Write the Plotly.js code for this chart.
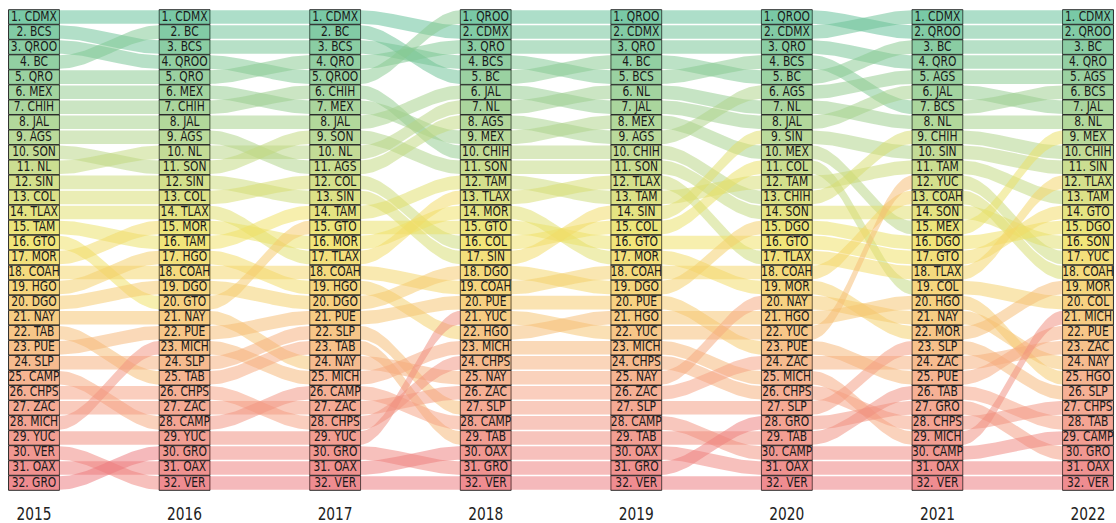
<!DOCTYPE html>
<html><head><meta charset="utf-8">
<script src="https://cdn.plot.ly/plotly-3.0.1.min.js"></script>
<style>html,body{margin:0;padding:0;background:#fff}#chart{width:1116px;height:523px}</style>
</head><body><div id="chart"></div>
<script>
const years = ['2015','2016','2017','2018','2019','2020','2021','2022'];
const r2015 = ['CDMX','BCS','QROO','BC','QRO','MEX','CHIH','JAL','AGS','SON','NL','SIN','COL','TLAX','TAM','GTO','MOR','COAH','HGO','DGO','NAY','TAB','PUE','SLP','CAMP','CHPS','ZAC','MICH','YUC','VER','OAX','GRO'];
const r2016 = ['CDMX','BC','BCS','QROO','QRO','MEX','CHIH','JAL','AGS','NL','SON','SIN','COL','TLAX','MOR','TAM','HGO','COAH','DGO','GTO','NAY','PUE','MICH','SLP','TAB','CHPS','ZAC','CAMP','YUC','GRO','OAX','VER'];
const r2017 = ['CDMX','BC','BCS','QRO','QROO','CHIH','MEX','JAL','SON','NL','AGS','COL','SIN','TAM','GTO','MOR','TLAX','COAH','HGO','DGO','PUE','SLP','TAB','NAY','MICH','CAMP','ZAC','CHPS','YUC','GRO','OAX','VER'];
const r2018 = ['QROO','CDMX','QRO','BCS','BC','JAL','NL','AGS','MEX','CHIH','SON','TAM','TLAX','MOR','GTO','COL','SIN','DGO','COAH','PUE','YUC','HGO','MICH','CHPS','NAY','ZAC','SLP','CAMP','TAB','OAX','GRO','VER'];
const r2019 = ['QROO','CDMX','QRO','BC','BCS','NL','JAL','MEX','AGS','CHIH','SON','TLAX','TAM','SIN','COL','GTO','MOR','COAH','DGO','PUE','HGO','YUC','MICH','CHPS','NAY','ZAC','SLP','CAMP','TAB','OAX','GRO','VER'];
const r2020 = ['QROO','CDMX','QRO','BCS','BC','AGS','NL','JAL','SIN','MEX','COL','TAM','CHIH','SON','DGO','GTO','TLAX','COAH','MOR','NAY','HGO','YUC','PUE','ZAC','MICH','CHPS','SLP','GRO','TAB','CAMP','OAX','VER'];
const r2021 = ['CDMX','QROO','BC','QRO','AGS','JAL','BCS','NL','CHIH','SIN','TAM','YUC','COAH','SON','MEX','DGO','GTO','TLAX','COL','HGO','NAY','MOR','SLP','ZAC','PUE','TAB','GRO','CHPS','MICH','CAMP','OAX','VER'];
const r2022 = ['CDMX','QROO','BC','QRO','AGS','BCS','JAL','NL','MEX','CHIH','SIN','TLAX','TAM','GTO','DGO','SON','YUC','COAH','MOR','COL','MICH','PUE','ZAC','NAY','HGO','SLP','CHPS','TAB','CAMP','GRO','OAX','VER'];
const rankings = [r2015, r2016, r2017, r2018, r2019, r2020, r2021, r2022];

const stops = [[0,[98,191,151]],[0.27,[178,212,136]],[0.47,[239,226,98]],[0.62,[246,200,108]],[0.8,[245,163,130]],[1,[236,120,124]]];
function col(rank, a){
  const t = (rank-1)/31;
  let k = 0;
  while (k < stops.length-2 && t > stops[k+1][0]) k++;
  const [t0,c0] = stops[k], [t1,c1] = stops[k+1];
  const f = (t-t0)/(t1-t0);
  const c = c0.map((v,j)=>Math.round(v+(c1[j]-v)*f));
  return `rgba(${c[0]},${c[1]},${c[2]},${a})`;
}

const HW = 0.169, BH = 0.45, N = 40;
const traces = [];
for (let i = 0; i < rankings.length-1; i++) {
  rankings[i].forEach((s, k) => {
    const r1 = k+1, r2 = rankings[i+1].indexOf(s)+1;
    const x0 = i+HW, x1 = i+1-HW;
    const xs = [], ys = [], xb = [], yb = [];
    for (let j = 0; j <= N; j++) {
      const t = j/N, e = 3*t*t-2*t*t*t;
      const x = x0+(x1-x0)*t, y = r1+(r2-r1)*e;
      xs.push(x); ys.push(y-BH); xb.push(x); yb.push(y+BH);
    }
    traces.push({type:'scatter', mode:'lines', x: xs.concat(xb.reverse()), y: ys.concat(yb.reverse()),
      fill:'toself', fillcolor: col(r1,0.52), line:{width:0}, hoverinfo:'skip'});
  });
}
const shapes = [];
rankings.forEach((arr, i) => {
  arr.forEach((s, k) => {
    const r = k+1;
    shapes.push({type:'rect', xref:'x', yref:'y', x0:i-HW, x1:i+HW, y0:r-0.485, y1:r+0.485,
      fillcolor: col(r,0.85), line:{color:'#2b2b2b', width:1}, layer:'below'});
  });
  traces.push({type:'scatter', mode:'text', x: arr.map(()=>i), y: arr.map((s,k)=>k+1),
    text: arr.map((s,k)=>`${k+1}. ${s}`), textposition:'middle center',
    textfont:{family:'"DejaVu Sans Condensed","DejaVu Sans",sans-serif', size:14, color:'#1a1a1a'},
    hoverinfo:'skip', cliponaxis:false});
});
traces.push({type:'scatter', mode:'text', x: years.map((y,i)=>i), y: years.map(()=>34.15), text: years,
  textfont:{family:'"DejaVu Sans Condensed","DejaVu Sans",sans-serif', size:17, color:'#222'}, hoverinfo:'skip', cliponaxis:false});

const layout = {
  width:1116, height:523, margin:{l:0,r:0,t:0,b:0}, showlegend:false,
  paper_bgcolor:'#fff', plot_bgcolor:'#fff',
  xaxis:{range:[-0.2258,7.186], visible:false, fixedrange:true},
  yaxis:{range:[34.66,-0.131], visible:false, fixedrange:true},
  shapes: shapes
};
Plotly.newPlot('chart', traces, layout, {displayModeBar:false, staticPlot:true}).then(gd => {
  gd.querySelectorAll('g.textpoint text').forEach(t => {
    const s = t.textContent;
    const w = t.getComputedTextLength();
    const f = /^\d+\. /.test(s) ? 0.85 : 0.9;
    t.setAttribute('textLength', (w*f).toFixed(1));
    t.setAttribute('lengthAdjust', 'spacingAndGlyphs');
  });
});
</script></body></html>
